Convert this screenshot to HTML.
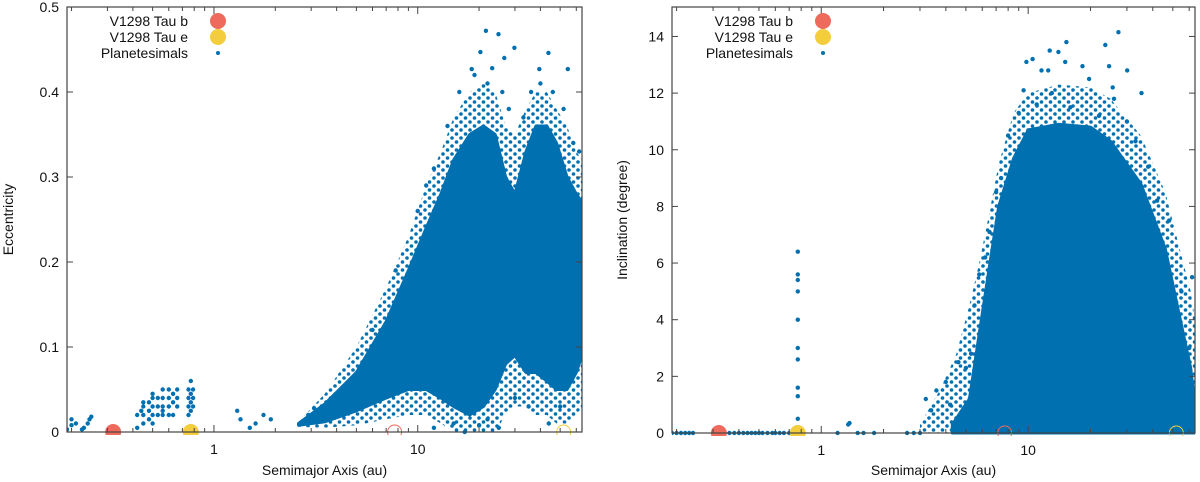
<!DOCTYPE html>
<html><head><meta charset="utf-8"><style>
html,body{margin:0;padding:0;background:#fff;}
svg{display:block;font-family:"Liberation Sans","DejaVu Sans",sans-serif;}
</style></head><body>
<svg id="fig" width="1200" height="482" viewBox="0 0 1200 482" xmlns="http://www.w3.org/2000/svg">
<defs>
<pattern id="sparse" patternUnits="userSpaceOnUse" width="9" height="8">
<circle cx="2" cy="2" r="1.8" fill="#0170b0"/>
<circle cx="6.5" cy="6" r="1.8" fill="#0170b0"/>
</pattern>
</defs>
</svg>
<script>
// ---------- DATA ----------
const xTickMajors = [1, 10];
const xTickLabels = ["1", "10"];
const eTicks = [0, 0.1, 0.2, 0.3, 0.4, 0.5];
const eTickLabels = ["0", "0.1", "0.2", "0.3", "0.4", "0.5"];
const iTicks = [0, 2, 4, 6, 8, 10, 12, 14];
const iTickLabels = ["0", "2", "4", "6", "8", "10", "12", "14"];

const planetNames = ["V1298 Tau b", "V1298 Tau e"];
const planetStartA = [0.32, 0.77];
const planetEndA = [7.7, 52];

// Eccentricity: dense-region envelope
const eBinA = [2.6, 3.5, 5, 7, 9, 11, 13, 15, 18, 21, 24, 27, 30, 34, 38, 43, 48, 54, 60, 64];
const eTop  = [0.01, 0.033, 0.07, 0.13, 0.19, 0.24, 0.28, 0.32, 0.35, 0.36, 0.35, 0.30, 0.28, 0.33, 0.36, 0.36, 0.34, 0.30, 0.28, 0.27];
const eBot  = [0.008, 0.012, 0.025, 0.04, 0.05, 0.05, 0.04, 0.03, 0.02, 0.03, 0.05, 0.08, 0.09, 0.07, 0.07, 0.06, 0.05, 0.05, 0.07, 0.09];
// Eccentricity: sparse halo envelope
const eOutTop = [0.012, 0.045, 0.10, 0.17, 0.23, 0.29, 0.33, 0.37, 0.40, 0.41, 0.40, 0.36, 0.35, 0.38, 0.40, 0.40, 0.38, 0.36, 0.33, 0.32];
const eOutBot = [0.006, 0.005, 0.008, 0.015, 0.02, 0.02, 0.01, 0.0, 0.0, 0.0, 0.0, 0.02, 0.03, 0.03, 0.02, 0.02, 0.01, 0.01, 0.02, 0.03];
// Eccentricity: scattered planetesimals
const eScatA = [0.19,0.2,0.2,0.21,0.23,0.24,0.245,0.25,0.225,
 0.42,0.42,0.44,0.45,0.45,0.45,0.45,0.48,0.48,0.48,0.5,0.5,0.5,0.5,0.5,0.53,0.53,0.53,0.56,0.56,0.56,0.56,0.56,0.6,0.6,0.6,0.6,0.63,0.63,0.63,0.66,0.66,0.66,0.75,0.75,0.75,0.75,0.77,0.77,0.77,0.77,0.79,0.79,0.79,
 1.3,1.35,1.5,1.6,1.75,1.9,2.7,2.9,3.1,3.3,
 12,15,17,20,22,25,44,50,30,35,
 6,7.8,10,12,14,16,19,22,26,28,33,36,40,46,52,58,62,8,11,
 21.6,24.9,20.3,29.8,26.6,43.8,39.5,54.5,18.4,23.2];
const eScatE = [0.003,0.008,0.015,0.01,0.005,0.01,0.015,0.018,0.003,
 0.005,0.02,0.025,0.01,0.02,0.03,0.035,0.015,0.025,0.035,0.01,0.02,0.03,0.04,0.045,0.02,0.03,0.04,0.02,0.03,0.04,0.05,0.025,0.03,0.04,0.05,0.02,0.035,0.045,0.02,0.03,0.04,0.05,0.03,0.04,0.05,0.02,0.035,0.045,0.06,0.025,0.04,0.05,0.03,
 0.025,0.015,0.005,0.01,0.02,0.015,0.012,0.02,0.028,0.02,
 0.005,0.01,0.0,0.008,0.015,0.005,0.01,0.03,0.04,0.03,
 0.12,0.19,0.26,0.31,0.36,0.40,0.42,0.41,0.40,0.38,0.37,0.40,0.41,0.40,0.38,0.34,0.33,0.16,0.29,
 0.472,0.468,0.447,0.452,0.44,0.446,0.427,0.427,0.427,0.428];

// Inclination: dense-region envelope
const iBinA = [4.3, 5.2, 5.8, 6.5, 7.2, 8.5, 10, 14, 20, 25, 35, 46, 54, 61, 64];
const iTop  = [0.3, 1.2, 3.5, 5.9, 8.0, 9.7, 10.7, 10.9, 10.8, 10.3, 8.8, 6.5, 4.1, 2.3, 1.0];
// Inclination: sparse halo envelope
const iOutA   = [3.0, 3.8, 4.5, 5.2, 5.8, 6.5, 7.2, 8.5, 10, 14, 20, 25, 35, 46, 54, 61, 64];
const iOutTop = [0.3, 1.6, 2.8, 4.5, 6.0, 7.8, 9.5, 11.3, 12.0, 12.3, 12.2, 11.8, 10.5, 8.5, 6.5, 5.0, 4.0];
// Inclination: scattered planetesimals
const iScatA = [0.19,0.2,0.21,0.22,0.23,0.24,0.36,0.38,0.4,0.42,0.44,0.46,0.48,0.5,0.52,0.55,0.58,0.6,0.63,0.66,0.7,
 0.77,0.77,0.77,0.77,0.77,0.77,0.77,0.77,0.77,0.77,0.77,
 1.2,1.35,1.37,1.5,1.6,1.8,2.6,2.8,3.0,
 3.2,3.4,3.6,4,4.2,4.6,5,5.3,5.5,5.8,6.2,6.5,7,7.4,8,9,9.5,11,13,16,22,26,30,33,38,42,48,55,60,62,
 27.3,15.3,23.6,12.7,14.0,9.8,10.5,15.1,18.3,24.6,11.6,12.5,30.1,19.7,35.3,25.6];
const iScatI = [0,0,0,0,0,0,0,0,0,0,0,0,0,0,0,0,0,0,0,0,0,
 6.4,5.6,5.4,5.0,4.0,3.0,2.6,1.6,1.3,0.5,0.2,
 0,0.3,0.35,0,0,0,0,0,0,
 1.2,0.8,1.5,1.8,1.0,2.5,2.3,2.8,4.5,5.6,6.2,7.1,8.5,9.0,10.5,11.3,12.1,11.6,12.0,11.5,11.2,11.8,11.0,10.3,9.4,8.2,7.5,5.0,3.0,5.5,
 14.15,13.8,13.7,13.5,13.45,13.1,13.2,13.1,12.95,12.95,12.8,12.8,12.8,12.5,12.0,12.2];

// ---------- DRAW ----------
const NS = "http://www.w3.org/2000/svg";
const svg = document.getElementById("fig");
const BLUE = "#0170b0", RED = "#ee6a5c", YEL = "#f4cd3c";
const A_MIN = 0.19, A_MAX = 64;
function mk(tag, attrs, parent) {
  const el = document.createElementNS(NS, tag);
  for (const k in attrs) el.setAttribute(k, attrs[k]);
  (parent || svg).appendChild(el);
  return el;
}
function makePanel(p) {
  const g = mk("g", {});
  
  
  const xs = a => p.x0 + (Math.log10(a) - Math.log10(A_MIN)) / (Math.log10(A_MAX) - Math.log10(A_MIN)) * (p.x1 - p.x0);
  const ys = v => p.y1 - (v - p.vmin) / (p.vmax - p.vmin) * (p.y1 - p.y0);
  const clip = "clip-" + p.name;
  const cp = mk("clipPath", {id: clip}, g);
  mk("rect", {x: p.x0, y: p.y0 - 3, width: p.x1 - p.x0, height: p.y1 - p.y0 + 6}, cp);
  const data = mk("g", {"clip-path": "url(#" + clip + ")"}, g);
  
  
  function band(A, T, B, fill, nm, sw) {
    let pts = [];
    for (let k = 0; k < A.length; k++) pts.push(xs(A[k]).toFixed(1) + "," + ys(T[k]).toFixed(1));
    for (let k = A.length - 1; k >= 0; k--) pts.push(xs(A[k]).toFixed(1) + "," + ys(B[k]).toFixed(1));
    const poly = mk("polygon", {points: pts.join(" "), fill: fill, stroke: sw ? BLUE : "none", "stroke-width": sw || 0, "stroke-linejoin": "round"}, data);
    
    
  }
  band(p.outA, p.outTop, p.outBot, "url(#sparse)", "planetesimal-sparse-region", 0);
  band(p.binA, p.top, p.bot, BLUE, "planetesimal-dense-region", 3);
  for (let k = 0; k < p.sa.length; k++) {
    const c = mk("circle", {cx: xs(p.sa[k]).toFixed(1), cy: ys(p.sv[k]).toFixed(1), r: 2.2, fill: BLUE}, data);
    
    
  }
  const cols = [RED, YEL];
  for (let k = 0; k < planetStartA.length; k++) {
    const h = mk("circle", {cx: xs(planetEndA[k]), cy: ys(0), r: 7, fill: "none", stroke: cols[k], "stroke-width": 1}, data);
    
    
    const f = mk("circle", {cx: xs(planetStartA[k]), cy: ys(0), r: 8, fill: cols[k]}, data);
    
    
  }
  const fr = mk("rect", {x: p.x0, y: p.y0, width: p.x1 - p.x0, height: p.y1 - p.y0, fill: "none", stroke: "#444", "stroke-width": 1.2}, g);
  
  
  for (let d = -1; d <= 1; d++) for (let m = 1; m <= 9; m++) {
    const a = m * Math.pow(10, d);
    if (a < A_MIN || a > A_MAX) continue;
    const x = xs(a), len = m === 1 ? 7 : 4;
    mk("line", {x1: x, x2: x, y1: p.y1, y2: p.y1 - len, stroke: "#444"}, g);
    mk("line", {x1: x, x2: x, y1: p.y0, y2: p.y0 + len, stroke: "#444"}, g);
  }
  for (let k = 0; k < xTickMajors.length; k++) {
    const t = mk("text", {x: xs(xTickMajors[k]), y: p.y1 + 22, "font-size": 14, "text-anchor": "middle", fill: "#111"}, g);
    t.textContent = xTickLabels[k];
    
    
  }
  for (let k = 0; k < p.yt.length; k++) {
    const y = ys(p.yt[k]);
    mk("line", {x1: p.x0, x2: p.x0 + 6, y1: y, y2: y, stroke: "#444"}, g);
    mk("line", {x1: p.x1, x2: p.x1 - 6, y1: y, y2: y, stroke: "#444"}, g);
    const t = mk("text", {x: p.x0 - 8, y: y + 5, "font-size": 14, "text-anchor": "end", fill: "#111"}, g);
    t.textContent = p.ytl[k];
    
    
  }
  const xl = mk("text", {x: (p.x0 + p.x1) / 2, y: 475, "font-size": 14, "text-anchor": "middle", fill: "#111"}, g);
  xl.textContent = "Semimajor Axis (au)";
  
  
  const yl = mk("text", {x: 0, y: 0, "font-size": 14, "text-anchor": "middle", fill: "#111", transform: "translate(" + p.ylx + "," + (p.y0 + p.y1) / 2 + ") rotate(-90)"}, g);
  yl.textContent = p.ylabel;
  
  
  const lg = mk("g", {}, g);
  
  
  const labs = [planetNames[0], planetNames[1], "Planetesimals"];
  for (let k = 0; k < 3; k++) {
    const y = 21 + k * 16;
    const t = mk("text", {x: p.legX, y: y + 5, "font-size": 14, "text-anchor": "end", fill: "#111"}, lg);
    t.textContent = labs[k];
    
    
    const c = mk("circle", {cx: p.legX + 30, cy: y, r: k < 2 ? 8 : 2, fill: k === 0 ? RED : k === 1 ? YEL : BLUE}, lg);
    
    
  }
}
makePanel({name: "eccentricity-panel", x0: 67, x1: 582, y0: 7, y1: 432, vmin: 0, vmax: 0.5,
  binA: eBinA, top: eTop, bot: eBot, outA: eBinA, outTop: eOutTop, outBot: eOutBot,
  sa: eScatA, sv: eScatE, yt: eTicks, ytl: eTickLabels,
  ylabel: "Eccentricity", ylx: 13, legX: 188});
makePanel({name: "inclination-panel", x0: 672, x1: 1195, y0: 7, y1: 433, vmin: 0, vmax: 15.04,
  binA: iBinA, top: iTop, bot: iBinA.map(() => 0), outA: iOutA, outTop: iOutTop, outBot: iOutA.map(() => 0),
  sa: iScatA, sv: iScatI, yt: iTicks, ytl: iTickLabels,
  ylabel: "Inclination (degree)", ylx: 627, legX: 793});
</script>
</body></html>
